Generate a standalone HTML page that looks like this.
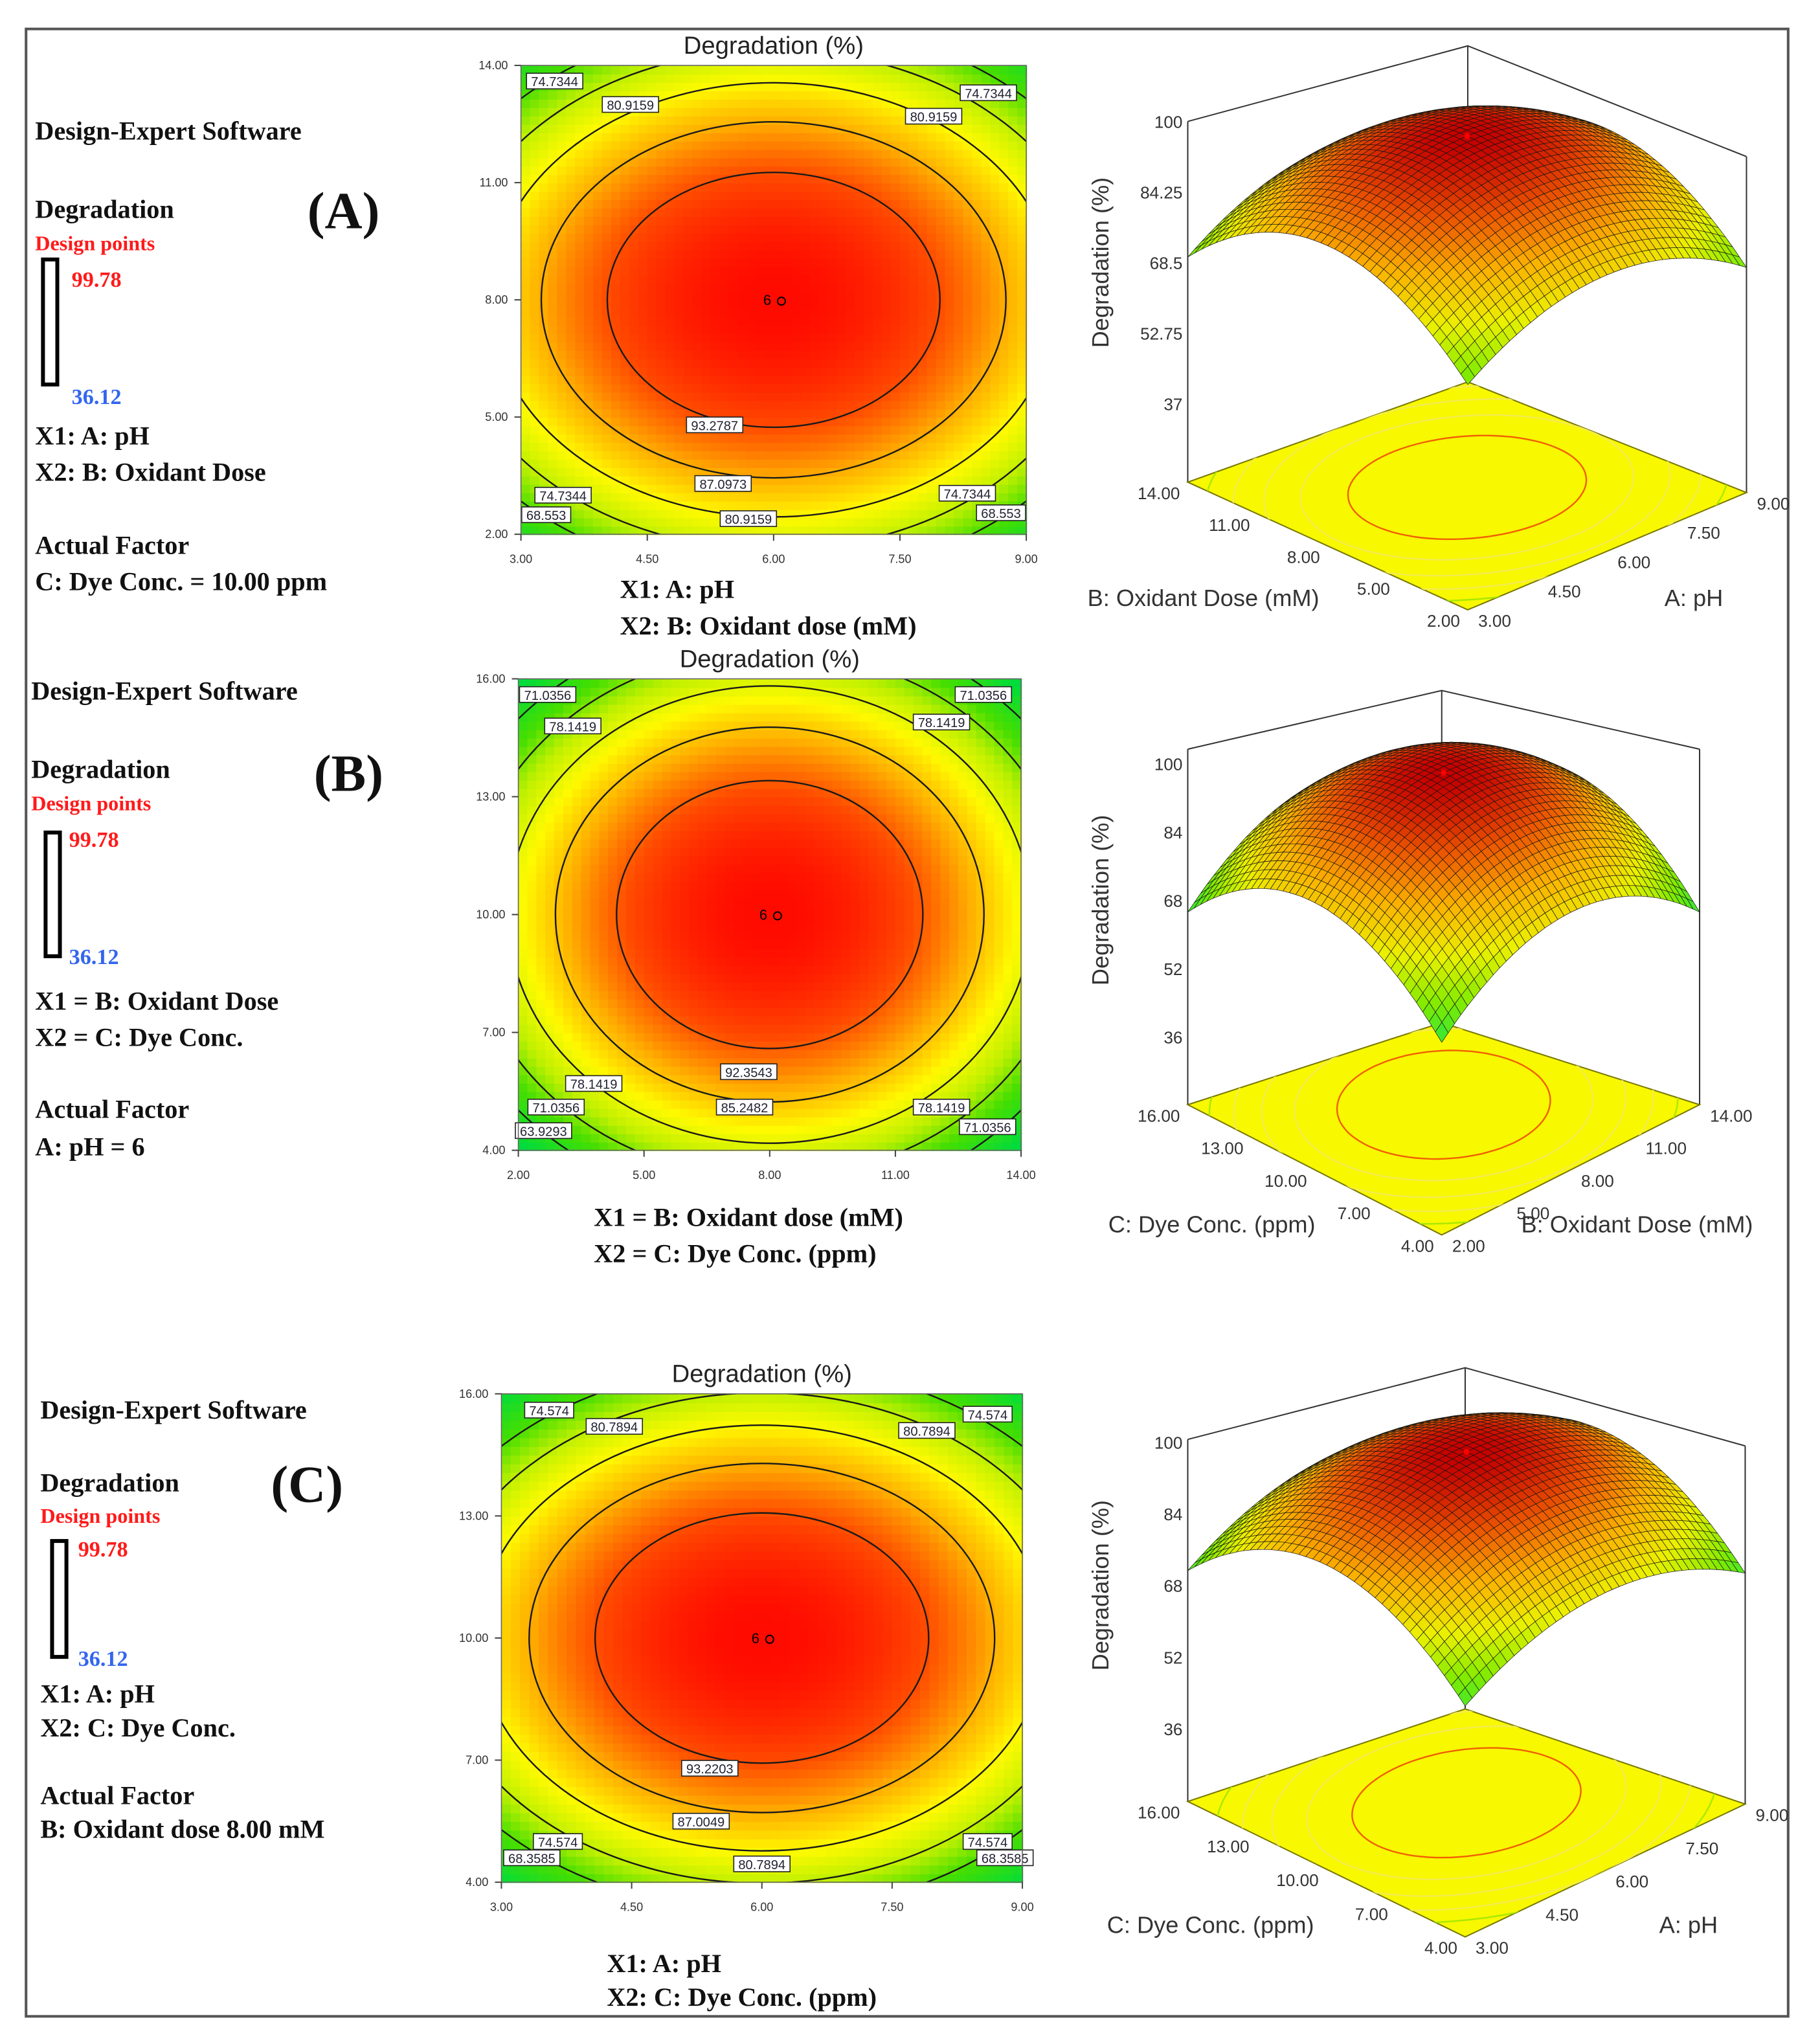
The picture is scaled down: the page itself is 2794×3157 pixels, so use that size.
<!DOCTYPE html>
<html><head><meta charset="utf-8"><title>Degradation response surfaces</title>
<style>
html,body{margin:0;padding:0;background:#fff;}
svg{display:block;}
.serif{font-family:"Liberation Serif",serif;font-weight:bold;}
.sans{font-family:"Liberation Sans",sans-serif;}
</style></head>
<body>
<svg id="fig" width="2794" height="3157" viewBox="0 0 1389 1569" xmlns="http://www.w3.org/2000/svg">
<rect x="0" y="0" width="1389" height="1569" fill="#fff"/>
<rect x="20" y="22" width="1353" height="1526" fill="none" stroke="#555" stroke-width="2"/>

<g class="serif" fill="#111">
<text x="27" y="107" font-size="20">Design-Expert Software</text>
<text x="27" y="167" font-size="20">Degradation</text>
<text x="236" y="175" font-size="40">(A)</text>
<text x="27" y="192" font-size="16" fill="#ff1a1a">Design points</text>
<rect x="33" y="199" width="11" height="96" fill="#fff" stroke="#000" stroke-width="3"/>
<text x="55" y="220" font-size="17" fill="#ff1a1a">99.78</text>
<text x="55" y="310" font-size="17" fill="#3366ee">36.12</text>
<text x="27" y="341" font-size="20">X1: A: pH</text>
<text x="27" y="369" font-size="20">X2: B: Oxidant Dose</text>
<text x="27" y="425" font-size="20">Actual Factor</text>
<text x="27" y="453" font-size="20">C: Dye Conc. = 10.00 ppm</text>
</g>
<g class="serif" fill="#111">
<text x="24" y="537" font-size="20">Design-Expert Software</text>
<text x="24" y="597" font-size="20">Degradation</text>
<text x="241" y="607" font-size="40">(B)</text>
<text x="24" y="622" font-size="16" fill="#ff1a1a">Design points</text>
<rect x="35" y="639" width="11" height="95" fill="#fff" stroke="#000" stroke-width="3"/>
<text x="53" y="650" font-size="17" fill="#ff1a1a">99.78</text>
<text x="53" y="740" font-size="17" fill="#3366ee">36.12</text>
<text x="27" y="775" font-size="20">X1 = B: Oxidant Dose</text>
<text x="27" y="803" font-size="20">X2 = C: Dye Conc.</text>
<text x="27" y="858" font-size="20">Actual Factor</text>
<text x="27" y="887" font-size="20">A: pH = 6</text>
</g>
<g class="serif" fill="#111">
<text x="31" y="1089" font-size="20">Design-Expert Software</text>
<text x="31" y="1145" font-size="20">Degradation</text>
<text x="208" y="1153" font-size="40">(C)</text>
<text x="31" y="1169" font-size="16" fill="#ff1a1a">Design points</text>
<rect x="40" y="1183" width="11" height="89" fill="#fff" stroke="#000" stroke-width="3"/>
<text x="60" y="1195" font-size="17" fill="#ff1a1a">99.78</text>
<text x="60" y="1279" font-size="17" fill="#3366ee">36.12</text>
<text x="31" y="1307" font-size="20">X1: A: pH</text>
<text x="31" y="1333" font-size="20">X2: C: Dye Conc.</text>
<text x="31" y="1385" font-size="20">Actual Factor</text>
<text x="31" y="1411" font-size="20">B: Oxidant dose 8.00 mM</text>
</g>

<g class="serif" fill="#111" font-size="20">
<text x="476" y="459">X1: A: pH</text>
<text x="476" y="487">X2: B: Oxidant dose (mM)</text>
<text x="456" y="941">X1 = B: Oxidant dose (mM)</text>
<text x="456" y="969">X2 = C: Dye Conc. (ppm)</text>
<text x="466" y="1514">X1: A: pH</text>
<text x="466" y="1540">X2: C: Dye Conc. (ppm)</text>
</g>
<g class="sans" fill="#333" font-size="18">
<text x="835" y="465">B: Oxidant Dose (mM)</text>
<text x="1278" y="465">A: pH</text>
<text x="851" y="946">C: Dye Conc. (ppm)</text>
<text x="1168" y="946">B: Oxidant Dose (mM)</text>
<text x="850" y="1484">C: Dye Conc. (ppm)</text>
<text x="1274" y="1484">A: pH</text>
</g>
<g id="dyn"></g>
</svg>
<script>
// ===== data =====
const respMax = 99.78;
const respMin = 36.12;
// model: [peak, curvature along X1, curvature along X2]
const modelA = [99.78, 15, 22];
const modelB = [99.78, 20, 23];
const modelC = [99.78, 16, 25];
const centerA = [6, 8];
const centerB = [8, 10];
const centerC = [6, 10];
const levelsA = [68.553, 74.7344, 80.9159, 87.0973, 93.2787];
const levelsB = [63.9293, 71.0356, 78.1419, 85.2482, 92.3543];
const levelsC = [68.3585, 74.574, 80.7894, 87.0049, 93.2203];
const xTicksA = ["3.00","4.50","6.00","7.50","9.00"];
const yTicksA = ["2.00","5.00","8.00","11.00","14.00"];
const xTicksB = ["2.00","5.00","8.00","11.00","14.00"];
const yTicksB = ["4.00","7.00","10.00","13.00","16.00"];
const xTicksC = ["3.00","4.50","6.00","7.50","9.00"];
const yTicksC = ["4.00","7.00","10.00","13.00","16.00"];
const labelsA = [["74.7344",3.4,13.6],["80.9159",4.3,13.0],["74.7344",8.55,13.3],["80.9159",7.9,12.7],
  ["93.2787",5.3,4.8],["87.0973",5.4,3.3],["74.7344",3.5,3.0],["68.553",3.3,2.5],["80.9159",5.7,2.4],["74.7344",8.3,3.05],["68.553",8.7,2.55]];
const labelsB = [["71.0356",2.7,15.6],["78.1419",3.3,14.8],["71.0356",13.1,15.6],["78.1419",12.1,14.9],
  ["92.3543",7.5,6.0],["78.1419",3.8,5.7],["71.0356",2.9,5.1],["63.9293",2.6,4.5],["85.2482",7.4,5.1],["78.1419",12.1,5.1],["71.0356",13.2,4.6]];
const labelsC = [["74.574",3.55,15.6],["80.7894",4.3,15.2],["74.574",8.6,15.5],["80.7894",7.9,15.1],
  ["93.2203",5.4,6.8],["87.0049",5.3,5.5],["74.574",3.65,5.0],["68.3585",3.35,4.6],["80.7894",6.0,4.45],["74.574",8.6,5.0],["68.3585",8.8,4.6]];
const zTicksA = [100, 84.25, 68.5, 52.75, 37];
const zTicksB = [100, 84, 68, 52, 36];
const zTicksC = [100, 84, 68, 52, 36];
const leftTicksA = ["14.00","11.00","8.00","5.00","2.00"];
const rightTicksA = ["3.00","4.50","6.00","7.50","9.00"];
const leftTicksB = ["16.00","13.00","10.00","7.00","4.00"];
const rightTicksB = ["2.00","5.00","8.00","11.00","14.00"];
const leftTicksC = ["16.00","13.00","10.00","7.00","4.00"];
const rightTicksC = ["3.00","4.50","6.00","7.50","9.00"];

// ===== rendering =====
const NS = "http://www.w3.org/2000/svg";
const root = document.getElementById("dyn");
function mk(tag, attrs, parent){
  const e = document.createElementNS(NS, tag);
  for (const k in attrs) e.setAttribute(k, attrs[k]);
  (parent || root).appendChild(e);
  return e;
}
const heatStops = [[0,[0,230,170]],[0.2,[0,230,150]],[0.35,[0,220,60]],[0.5,[70,222,0]],[0.6,[190,240,0]],[0.7,[255,250,0]],[0.8,[255,175,0]],[0.9,[255,75,0]],[1,[255,10,0]]];
const surfStops = [[0,[0,240,190]],[0.3,[30,230,70]],[0.45,[130,235,0]],[0.6,[235,240,0]],[0.75,[250,175,0]],[0.88,[235,85,0]],[1,[195,0,0]]];
function colorAt(stops, z){
  let t = (z - respMin) / (respMax - respMin);
  t = Math.max(0, Math.min(1, t));
  for (let i = 1; i < stops.length; i++){
    if (t <= stops[i][0]){
      const a = stops[i-1], b = stops[i], f = (t - a[0]) / (b[0] - a[0]);
      const c = a[1].map((v, k) => Math.round(v + (b[1][k] - v) * f));
      return "rgb(" + c.join(",") + ")";
    }
  }
  return "rgb(" + stops[stops.length-1][1].join(",") + ")";
}
function modelZ(model, an, bn){ return model[0] - model[1]*an*an - model[2]*bn*bn; }

function drawContour(id, box, xTicks, yTicks, model, center, levels, labels){
  const g = mk("g", {});
  
  
  const xr = [parseFloat(xTicks[0]), parseFloat(xTicks[xTicks.length-1])];
  const yr = [parseFloat(yTicks[0]), parseFloat(yTicks[yTicks.length-1])];
  const X = v => box.x0 + (v - xr[0]) / (xr[1] - xr[0]) * (box.x1 - box.x0);
  const Y = v => box.y1 - (v - yr[0]) / (yr[1] - yr[0]) * (box.y1 - box.y0);
  const hx = (xr[1]-xr[0])/2, hy = (yr[1]-yr[0])/2;
  const N = 56;
  const hm = mk("g", {}, g);
  
  
  for (let i = 0; i < N; i++) for (let j = 0; j < N; j++){
    const u = xr[0] + (i + 0.5) / N * (xr[1]-xr[0]);
    const v = yr[0] + (j + 0.5) / N * (yr[1]-yr[0]);
    const z = modelZ(model, (u - center[0]) / hx, (v - center[1]) / hy);
    const x0 = X(xr[0] + i / N * (xr[1]-xr[0])), x1 = X(xr[0] + (i+1) / N * (xr[1]-xr[0]));
    const y1 = Y(yr[0] + j / N * (yr[1]-yr[0])), y0 = Y(yr[0] + (j+1) / N * (yr[1]-yr[0]));
    const r = mk("rect", {x:x0, y:y0, width:(x1-x0)+0.6, height:(y1-y0)+0.6, fill:colorAt(heatStops, z)}, hm);
    
    
  }
  const cp = mk("clipPath", {id:"clip-" + id}, g);
  mk("rect", {x:box.x0, y:box.y0, width:box.x1-box.x0, height:box.y1-box.y0}, cp);
  const lg = mk("g", {"clip-path":"url(#clip-" + id + ")"}, g);
  levels.forEach(L => {
    const ra = Math.sqrt((model[0]-L)/model[1]) * hx, rb = Math.sqrt((model[0]-L)/model[2]) * hy;
    const e = mk("ellipse", {cx:X(center[0]), cy:Y(center[1]), rx:X(center[0]+ra)-X(center[0]), ry:Y(center[1])-Y(center[1]+rb), fill:"none", stroke:"#1a1a1a", "stroke-width":1.2}, lg);
    
    
  });
  labels.forEach(l => {
    const w = l[0].length * 5.6 + 4;
    const lb = mk("g", {}, g);
    
    
    mk("rect", {x:X(l[1]) - w/2, y:Y(l[2]) - 6, width:w, height:12, fill:"#fff", stroke:"#222", "stroke-width":0.8}, lb);
    const t = mk("text", {x:X(l[1]), y:Y(l[2]) + 4, "text-anchor":"middle", "font-size":10, class:"sans", fill:"#223"}, lb);
    t.textContent = l[0];
  });
  const dp = mk("g", {}, g);
  
  
  const t6 = mk("text", {x:X(center[0]) - 8, y:Y(center[1]) + 4, "font-size":11, class:"sans", fill:"#000"}, dp);
  t6.textContent = "6";
  mk("circle", {cx:X(center[0]) + 6, cy:Y(center[1]) + 1, r:3, fill:"none", stroke:"#000", "stroke-width":1}, dp);
  mk("rect", {x:box.x0, y:box.y0, width:box.x1-box.x0, height:box.y1-box.y0, fill:"none", stroke:"#666", "stroke-width":0.8}, g);
  xTicks.forEach(s => {
    const v = parseFloat(s);
    mk("line", {x1:X(v), x2:X(v), y1:box.y1, y2:box.y1+5, stroke:"#444"}, g);
    const t = mk("text", {x:X(v), y:box.y1 + 22, "text-anchor":"middle", "font-size":9, class:"sans", fill:"#333"}, g);
    
    
    t.textContent = s;
  });
  yTicks.forEach(s => {
    const v = parseFloat(s);
    mk("line", {x1:box.x0-5, x2:box.x0, y1:Y(v), y2:Y(v), stroke:"#444"}, g);
    const t = mk("text", {x:box.x0 - 10, y:Y(v) + 3, "text-anchor":"end", "font-size":9, class:"sans", fill:"#333"}, g);
    
    
    t.textContent = s;
  });
  const title = mk("text", {x:(box.x0+box.x1)/2, y:box.y0 - 9, "text-anchor":"middle", "font-size":19, class:"sans", fill:"#222"}, g);
  
  
  title.textContent = "Degradation (%)";
}

function drawSurface(id, geo, model, levels, zTicks, leftTicks, rightTicks){
  const g = mk("g", {});
  
  
  const F = geo.F, L = geo.L, R = geo.R, B = geo.B;
  const floorPt = (a, b) => [F[0] + a*(R[0]-F[0]) + b*(L[0]-F[0]), F[1] + a*(R[1]-F[1]) + b*(L[1]-F[1])];
  const sp = (a, b) => { const p = floorPt(a, b); const z = modelZ(model, 2*a-1, 2*b-1); return [p[0], p[1] - (z - geo.zBase) * geo.ppu, z]; };
  const bx = mk("g", {stroke:"#333", "stroke-width":1, fill:"none"}, g);
  
  
  mk("polyline", {points:[geo.TL, geo.T, geo.TR].map(p => p.join(",")).join(" ")}, bx);
  mk("line", {x1:geo.T[0], y1:geo.T[1], x2:B[0], y2:B[1]}, bx);
  mk("line", {x1:geo.TL[0], y1:geo.TL[1], x2:L[0], y2:L[1]}, bx);
  mk("line", {x1:geo.TR[0], y1:geo.TR[1], x2:R[0], y2:R[1]}, bx);
  const diamond = [F, R, B, L].map(p => p.join(",")).join(" ");
  const fl = mk("polygon", {points:diamond, fill:"#f8f800", stroke:"#777700", "stroke-width":1}, g);
  
  
  const cp = mk("clipPath", {id:"floorclip-" + id}, g);
  mk("polygon", {points:diamond}, cp);
  const fg = mk("g", {"clip-path":"url(#floorclip-" + id + ")"}, g);
  levels.forEach((Lv, k) => {
    const ra = Math.sqrt((model[0]-Lv)/model[1]) / 2, rb = Math.sqrt((model[0]-Lv)/model[2]) / 2;
    const pts = [];
    for (let s = 0; s <= 90; s++){
      const th = s / 90 * Math.PI * 2;
      pts.push(floorPt(0.5 + ra*Math.cos(th), 0.5 + rb*Math.sin(th)).map(v => v.toFixed(1)).join(","));
    }
    const col = k === levels.length-1 ? "#f06000" : (k === 0 ? "#a8e800" : "#f3ec50");
    const pl = mk("polyline", {points:pts.join(" "), fill:"none", stroke:col, "stroke-width":1.2}, fg);
    
    
  });
  const N = 40;
  const cells = [];
  for (let i = 0; i < N; i++) for (let j = 0; j < N; j++) cells.push([i, j]);
  cells.sort((p, q) => (q[0]+q[1]) - (p[0]+p[1]));
  const mesh = mk("g", {stroke:"#151515", "stroke-width":0.35, "stroke-linejoin":"round"}, g);
  
  
  cells.forEach(c => {
    const a0 = c[0]/N, a1 = (c[0]+1)/N, b0 = c[1]/N, b1 = (c[1]+1)/N;
    const p = [sp(a0,b0), sp(a1,b0), sp(a1,b1), sp(a0,b1)];
    const z = (p[0][2] + p[1][2] + p[2][2] + p[3][2]) / 4;
    const poly = mk("polygon", {points:p.map(q => q[0].toFixed(1) + "," + q[1].toFixed(1)).join(" "), fill:colorAt(surfStops, z)}, mesh);
    
    
  });
  const pk = sp(0.5, 0.5);
  const dot = mk("circle", {cx:pk[0], cy:pk[1], r:2.2, fill:"#ff0000"}, g);
  
  
  zTicks.forEach(v => {
    const t = mk("text", {x:geo.TL[0] - 4, y:geo.z100 + (100 - v) * geo.tickPpu + 5, "text-anchor":"end", "font-size":13, class:"sans", fill:"#333"}, g);
    
    
    t.textContent = String(v);
  });
  const zt = mk("text", {x:0, y:0, transform:"translate(" + (geo.TL[0]-61) + "," + ((geo.z100 + geo.z100 + 100*geo.tickPpu - zTicks[zTicks.length-1]*geo.tickPpu)/2) + ") rotate(-90)", "text-anchor":"middle", "font-size":18, class:"sans", fill:"#333"}, g);
  
  
  zt.textContent = "Degradation (%)";
  leftTicks.forEach((s, k) => {
    const f = k / (leftTicks.length - 1);
    const t = mk("text", {x:L[0] + f*(F[0]-L[0]) - 6, y:L[1] + f*(F[1]-L[1]) + 13, "text-anchor":"end", "font-size":13, class:"sans", fill:"#333"}, g);
    
    
    t.textContent = s;
  });
  rightTicks.forEach((s, k) => {
    const f = k / (rightTicks.length - 1);
    const t = mk("text", {x:F[0] + f*(R[0]-F[0]) + 8, y:F[1] + f*(R[1]-F[1]) + 13, "text-anchor":"start", "font-size":13, class:"sans", fill:"#333"}, g);
    
    
    t.textContent = s;
  });
}

drawContour("a", {x0:400, y0:50, x1:788, y1:410}, xTicksA, yTicksA, modelA, centerA, levelsA, labelsA);
drawContour("b", {x0:398, y0:521, x1:784, y1:883}, xTicksB, yTicksB, modelB, centerB, levelsB, labelsB);
drawContour("c", {x0:385, y0:1070, x1:785, y1:1445}, xTicksC, yTicksC, modelC, centerC, levelsC, labelsC);

drawSurface("a", {F:[1127,468], L:[912,370], R:[1341,378], B:[1127,293], T:[1127,35], TL:[912,93], TR:[1341,120],
  zBase:-3.2, ppu:2.62, z100:93, tickPpu:3.44}, modelA, levelsA, zTicksA, leftTicksA, rightTicksA);
drawSurface("b", {F:[1107,948], L:[912,848], R:[1305,848], B:[1107,785], T:[1107,530], TL:[912,575], TR:[1305,575],
  zBase:-2.6, ppu:2.49, z100:586, tickPpu:3.28}, modelB, levelsB, zTicksB, leftTicksB, rightTicksB);
drawSurface("c", {F:[1125,1487], L:[912,1383], R:[1340,1385], B:[1125,1312], T:[1125,1050], TL:[912,1105], TR:[1340,1110],
  zBase:-20, ppu:2.25, z100:1107, tickPpu:3.44}, modelC, levelsC, zTicksC, leftTicksC, rightTicksC);
</script>
</body></html>
